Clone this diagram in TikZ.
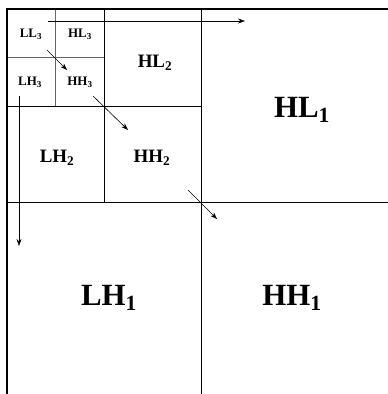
\documentclass[tikz,border=0pt]{standalone}
\usepackage{fontspec}
\setmainfont{Liberation Serif}
\usetikzlibrary{arrows.meta}

\begin{document}
\begin{tikzpicture}[x = 1bp, y = -1bp,
                        frame/.style = {line width = 1.3pt},
                        split/.style = {line width = 0.8pt},
                        fine/.style = {line width = 0.8pt, black!60},
                        scan/.style = {line width = 0.6pt, -{Stealth[length=7pt, width=5pt]}},
                        small/.style = {font = \bfseries\fontsize{13}{13}\selectfont},
                        medium/.style = {font = \bfseries\fontsize{19}{19}\selectfont},
                        large/.style = {font = \bfseries\fontsize{31}{31}\selectfont}]
        \useasboundingbox (0,0) rectangle (388,394);

        % sub-band labels
        \node [small] (LL3) at (31,34) {LL\textsubscript{3}};
        \node [small] (HL3) at (80,34) {HL\textsubscript{3}};
        \node [small] (LH3) at (30,82) {LH\textsubscript{3}};
        \node [small] (HH3) at (80,82) {HH\textsubscript{3}};
        \node [medium] (HL2) at (155,63) {HL\textsubscript{2}};
        \node [medium] (LH2) at (57,158) {LH\textsubscript{2}};
        \node [medium] (HH2) at (152,158) {HH\textsubscript{2}};
        \node [large] (HL1) at (302,110) {HL\textsubscript{1}};
        \node [large] (LH1) at (109,298) {LH\textsubscript{1}};
        \node [large] (HH1) at (292,298) {HH\textsubscript{1}};

        % grid
        \draw [fine] (55,9) -- (55,106);
        \draw [fine] (7,57) -- (104,57);
        \draw [split] (104,9) -- (104,202);
        \draw [split] (7,106) -- (201,106);
        \draw [split] (201,9) -- (201,394);
        \draw [split] (7,202) -- (388,202);
        \draw [frame] (7,394) -- (7,9) -- (388,9);

        % scan arrows
        \coordinate (R0) at (48,21);  \coordinate (R1) at (245,21);
        \coordinate (C0) at (19,96);  \coordinate (C1) at (19,246);
        \coordinate (D0) at (47,50);  \coordinate (D1) at (67,70);
        \coordinate (D2) at (93,96);  \coordinate (D3) at (128,130);
        \coordinate (D4) at (188,190);\coordinate (D5) at (217,219);
        \draw [scan] (R0) -- (R1);
        \draw [scan] (C0) -- (C1);
        \draw [scan] (D0) -- (D1);
        \draw [scan] (D2) -- (D3);
        \draw [scan] (D4) -- (D5);
\end{tikzpicture}
\end{document}
